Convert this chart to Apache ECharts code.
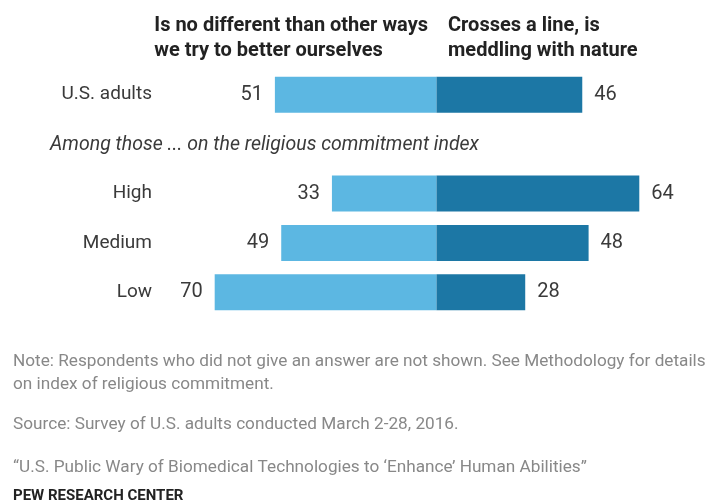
<!DOCTYPE html>
<html>
<head>
<meta charset="utf-8">
<script src="https://cdn.jsdelivr.net/npm/echarts@6/dist/echarts.min.js"></script>
<style>
  html, body { margin: 0; padding: 0; background: #fff; }
  #chart { width: 707px; height: 504px; }
</style>
</head>
<body>
<div id="chart"></div>
<script>
// rows top to bottom; the blank row holds the "Among those ..." subheading
const categories = ['U.S. adults', '', 'High', 'Medium', 'Low'];
const noDifferent = [51, null, 33, 49, 70];
const crossesLine = [46, null, 64, 48, 28];

const lightBlue = '#5cb7e2';
const darkBlue = '#1c77a5';
const txt = '#3a3a3a';
const font = 'Roboto, "Liberation Sans", sans-serif';

const chart = echarts.init(document.getElementById('chart'));

const valueLabel = (pos) => ({
  show: true,
  position: pos,
  distance: 12,
  fontSize: 20,
  fontFamily: font,
  color: txt,
  formatter: p => Math.abs(p.value)
});

chart.setOption({
  animation: false,
  grid: { left: 183, right: 17, top: 70, height: 247 },
  xAxis: {
    type: 'value', min: -80, max: 80,
    show: false
  },
  yAxis: {
    type: 'category',
    data: categories,
    inverse: true,
    axisLine: { show: false },
    axisTick: { show: false },
    axisLabel: { margin: 31, fontSize: 19, fontFamily: font, color: txt }
  },
  series: [
    {
      name: 'Is no different than other ways we try to better ourselves',
      type: 'bar',
      barWidth: 36,
      barGap: '-100%',
      itemStyle: { color: lightBlue },
      label: valueLabel('left'),
      data: noDifferent.map(v => v == null ? '-' : -v)
    },
    {
      name: 'Crosses a line, is meddling with nature',
      type: 'bar',
      barWidth: 36,
      itemStyle: { color: darkBlue },
      label: valueLabel('right'),
      data: crossesLine.map(v => v == null ? '-' : v)
    }
  ],
  graphic: [
    { type: 'text', right: 707 - 428, top: 13,
      style: { text: 'Is no different than other ways\nwe try to better ourselves', align: 'right',
        font: 'bold 20px ' + font, fill: '#222', lineHeight: 25 } },
    { type: 'text', left: 448, top: 13,
      style: { text: 'Crosses a line, is\nmeddling with nature',
        font: 'bold 20px ' + font, fill: '#222', lineHeight: 25 } },
    { type: 'text', left: 50, top: 135,
      style: { text: 'Among those ... on the religious commitment index',
        font: 'italic 19.5px ' + font, fill: txt } },
    { type: 'text', left: 13, top: 350,
      style: { text: 'Note: Respondents who did not give an answer are not shown. See Methodology for details\non index of religious commitment.',
        font: '17.2px ' + font, fill: '#888', lineHeight: 23 } },
    { type: 'text', left: 13, top: 416,
      style: { text: 'Source: Survey of U.S. adults conducted March 2-28, 2016.',
        font: '17.2px ' + font, fill: '#888' } },
    { type: 'text', left: 13, top: 459,
      style: { text: '\u201cU.S. Public Wary of Biomedical Technologies to \u2018Enhance\u2019 Human Abilities\u201d',
        font: '17.2px ' + font, fill: '#888' } },
    { type: 'text', left: 13, top: 489,
      style: { text: 'PEW RESEARCH CENTER',
        font: 'bold 15px ' + font, fill: '#222' } }
  ]
});
</script>
</body>
</html>
